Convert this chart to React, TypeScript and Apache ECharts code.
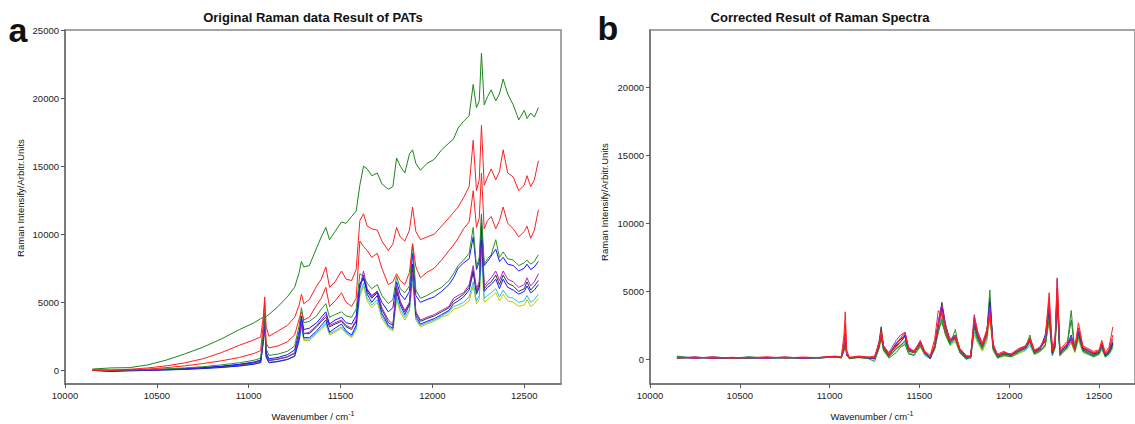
import React, { useEffect, useRef } from "react";
import * as echarts from "echarts";

const wavenumbers = [
  10150, 10250, 10350, 10450, 10550, 10650, 10750, 10850, 10950, 11030,
  11065, 11080, 11087, 11095, 11110, 11160, 11210, 11250, 11275, 11287,
  11300, 11330, 11370, 11395, 11420, 11440, 11470, 11505, 11530, 11560,
  11585, 11605, 11625, 11645, 11670, 11700, 11725, 11760, 11785, 11805,
  11825, 11850, 11875, 11892, 11910, 11935, 11970, 12010, 12050, 12090,
  12115, 12140, 12170, 12200, 12222, 12240, 12255, 12267, 12282, 12300,
  12320, 12345, 12365, 12385, 12410, 12440, 12470, 12500, 12515, 12535,
  12555, 12577,
];

// Panel a: original spectra
const rawGreen1 = [
  100, 180, 200, 400, 750, 1200, 1700, 2300, 3000, 3500,
  3800, 3900, 4000, 3950, 4100, 4700, 5400, 6100, 7200, 8000,
  7600, 7700, 9000, 9800, 10500, 9600, 10200, 10900, 10800, 11300,
  11700, 13600, 15000, 14800, 14300, 14500, 13700, 13300, 13500, 15600,
  15000, 14500, 15900, 16200, 15200, 14700, 15200, 15500, 16200, 16700,
  17000, 17800, 18300, 18700, 21000, 19300, 19800, 23300, 19500, 20100,
  20600, 19800, 20300, 21400, 20300, 19500, 18400, 19100, 18500, 18900,
  18600, 19300,
];
const rawRed1 = [
  0, 20, 80, 180, 330, 550, 850, 1300, 1850, 2250,
  2450, 4000, 5400, 3200, 2500, 2900, 3300, 3900, 4800, 5600,
  4900, 5200, 6200, 6700, 7600, 6100, 6500, 7300, 6700, 6600,
  7400, 11000, 11500, 10600, 10400, 10300, 9500, 8800, 9300, 10500,
  9800, 9500, 10300, 12000, 10200, 9600, 9800, 10000, 10600, 11200,
  11600, 12000, 12700, 13500, 16900, 13200, 14000, 18000, 13600, 14200,
  14800, 14000, 14600, 16200, 14500, 14200, 13200, 13600, 14300, 13500,
  14000, 15400,
];
const rawRed2 = [
  0, 0, 40, 100, 200, 330, 500, 700, 950, 1250,
  1450, 3500, 5000, 2000, 1650, 1800, 2100, 2600, 3800, 4300,
  3700, 3900, 4800, 5300, 6100, 4700, 5100, 5700, 5000, 4700,
  5300, 9500, 9100, 8800, 8300, 8600, 7500, 6300, 6500, 7100,
  6600, 6300, 7200, 9300, 7600, 6800, 7200, 7500, 8100, 8800,
  9200, 9700, 10400, 10900, 13200, 10500, 11200, 14500, 10400, 11000,
  11300, 10400, 11000, 12000, 10800, 10400, 9800, 10200, 10600, 9700,
  10300, 11800,
];
const rawGreen2 = [
  50, 0, 30, 60, 110, 180, 270, 400, 560, 750,
  900, 2800, 4200, 1600, 1100, 1200, 1400, 1800, 3300, 4600,
  3500, 3600, 4000, 4500, 4900, 3900, 4100, 4300, 4000, 3900,
  4500, 7100, 6900, 6400, 6000, 6300, 5500, 4900, 5200, 6900,
  6000, 5700, 6200, 9300, 5900, 5300, 5500, 5800, 6100, 6600,
  7100, 7700, 8100, 8600, 10500, 7600, 8300, 11500, 7800, 8200,
  8500, 9600, 8300, 8700, 8200, 8100, 7700, 7900, 8100, 7800,
  8000, 8500,
];
const rawBlue2 = [
  0, -50, 0, 30, 70, 130, 200, 300, 450, 620,
  760, 2500, 3900, 1300, 850, 950, 1150, 1500, 2900, 4000,
  3000, 3100, 3500, 3900, 4300, 3400, 3700, 3900, 3500, 3400,
  4000, 6400, 6700, 5900, 5500, 5800, 5000, 4300, 4600, 6500,
  5600, 5200, 5800, 8600, 5500, 5000, 5200, 5400, 5800, 6300,
  6800, 7500, 7900, 8200, 9800, 7400, 8000, 10600, 7700, 8000,
  8400, 8900, 8000, 8300, 7800, 7700, 7300, 7500, 7800, 7400,
  7600, 8000,
];
const rawMagenta = [
  0, 0, 20, 40, 80, 130, 200, 290, 420, 580,
  700, 2300, 3700, 1200, 750, 850, 1000, 1300, 2500, 3600,
  2700, 2800, 3300, 3700, 4100, 3300, 3500, 3700, 3300, 3100,
  3700, 6100, 7300, 6000, 5400, 5800, 4600, 3700, 3400, 6200,
  5100, 4400, 5000, 7200, 4300, 3700, 3900, 4100, 4400, 4700,
  5300, 5500, 5700, 6300, 7700, 6000, 6500, 11400, 6200, 6500,
  6800, 7300, 6600, 7300, 6700, 6500, 6100, 6300, 6800, 6200,
  6500, 7100,
];
const rawBlack = [
  20, 0, 10, 30, 70, 120, 190, 280, 400, 560,
  680, 2400, 3800, 1200, 720, 820, 980, 1250, 2600, 3800,
  2700, 2700, 3200, 3600, 3900, 3200, 3400, 3600, 3200, 3000,
  3600, 6300, 6800, 5800, 5300, 5700, 4500, 3500, 3300, 6000,
  5000, 4300, 4900, 7400, 4200, 3600, 3800, 4000, 4300, 4600,
  5100, 5300, 5600, 6100, 7400, 5800, 6300, 10800, 6000, 6300,
  6500, 7000, 6300, 7000, 6400, 6200, 5800, 6000, 6500, 5900,
  6200, 6600,
];
const rawBlue1 = [
  0, -80, -40, 0, 30, 70, 130, 210, 320, 460,
  570, 2200, 3600, 1000, 560, 650, 800, 1050, 2300, 3500,
  2400, 2400, 2900, 3300, 3700, 2800, 3100, 3400, 2900, 2600,
  3300, 6000, 7000, 5600, 5000, 5500, 4200, 3300, 3100, 5800,
  4800, 4100, 4800, 7800, 4000, 3400, 3600, 3800, 4100, 4400,
  4900, 5100, 5400, 5900, 7200, 5600, 6100, 9600, 5800, 6100,
  6300, 6700, 6000, 6700, 6100, 5900, 5600, 5800, 6200, 5700,
  5900, 6300,
];
const rawCyan = [
  30, 0, 0, 20, 50, 100, 160, 240, 350, 480,
  600, 2100, 3400, 1000, 600, 680, 820, 1050, 2200, 3300,
  2300, 2300, 2800, 3100, 3500, 2700, 2900, 3200, 2800, 2500,
  3100, 5600, 6400, 5300, 4800, 5200, 4000, 3200, 3000, 5400,
  4500, 3900, 4500, 6800, 3800, 3300, 3500, 3700, 4000, 4300,
  4700, 4800, 5000, 5400, 6500, 5100, 5500, 8800, 5300, 5500,
  5700, 6000, 5400, 5900, 5400, 5300, 5000, 5100, 5500, 5000,
  5200, 5600,
];
const rawYellow = [
  0, -20, 0, 10, 40, 90, 150, 230, 330, 460,
  570, 2000, 3300, 950, 570, 650, 780, 1000, 2100, 3200,
  2200, 2200, 2700, 3000, 3400, 2600, 2800, 3100, 2700, 2400,
  3000, 5400, 6200, 5100, 4600, 5000, 3800, 3100, 2900, 5200,
  4300, 3700, 4300, 6600, 3700, 3200, 3400, 3600, 3900, 4100,
  4500, 4600, 4800, 5100, 6200, 4900, 5200, 8400, 5000, 5200,
  5400, 5700, 5100, 5600, 5100, 5000, 4700, 4800, 5200, 4700,
  4900, 5300,
];

// Panel b: corrected spectra
const corRed1 = [
  150, 120, 180, 100, 150, 130, 170, 120, 160, 250,
  200, 1800, 3500, 700, 150, 250, 200, 150, 1200, 2100,
  1000, 400, 900, 1300, 1900, 800, 600, 1400, 600, 300,
  1500, 3600, 3300, 2400, 1500, 1800, 800, 300, 100, 3100,
  2000, 1200, 2200, 3400, 1200, 300, 500, 400, 800, 1000,
  1600, 700, 900, 1500, 4900, 800, 1500, 5900, 700, 1000,
  1300, 1500, 900, 2700, 1000, 800, 600, 700, 1400, 500,
  900, 2400,
];
const corRed2 = [
  100, 180, 90, 160, 120, 200, 110, 180, 130, 200,
  150, 1200, 2600, 500, 100, 200, 150, 250, 1000, 1900,
  900, 300, 1100, 1600, 2000, 700, 500, 1200, 500, 200,
  1100, 2600, 3500, 2100, 1300, 1600, 700, 200, 300, 2800,
  1800, 1000, 1900, 3100, 1000, 400, 600, 300, 700, 900,
  1400, 600, 800, 1300, 4200, 600, 1200, 5200, 500, 800,
  1100, 1300, 700, 2300, 900, 600, 500, 600, 1200, 400,
  700, 1800,
];
const corGreen1 = [
  200, 100, 150, 80, 200, 100, 150, 90, 120, 180,
  150, 700, 1300, 300, 100, 150, 100, 50, 900, 1700,
  800, 200, 800, 1000, 1400, 600, 500, 1100, 400, 200,
  900, 2300, 2700, 1900, 1200, 1500, 600, 100, 200, 2400,
  1500, 900, 1700, 4000, 900, 200, 400, 300, 600, 800,
  1300, 500, 700, 1100, 3700, 400, 1000, 4600, 400, 700,
  900, 2900, 700, 1900, 700, 500, 300, 500, 1000, 300,
  500, 1100,
];
const corGreen2 = [
  250, 100, 180, 120, 90, 160, 100, 140, 120, 200,
  120, 600, 1500, 300, 50, 200, 100, -150, 800, 1600,
  700, 100, 500, 900, 1100, 400, 300, 1000, 400, 100,
  800, 2000, 3000, 1800, 1100, 2200, 500, 0, 200, 2300,
  1400, 800, 1900, 5100, 800, 100, 300, 200, 500, 900,
  1800, 400, 600, 1000, 3000, 300, 900, 4300, 300, 600,
  800, 3600, 600, 1700, 600, 400, 200, 400, 900, 200,
  400, 1000,
];
const corBlue2 = [
  120, 180, 90, 150, 110, 130, 160, 100, 150, 220,
  140, 1000, 1800, 400, 120, 180, 120, 100, 1000, 1900,
  900, 300, 1000, 1300, 1700, 700, 500, 1200, 500, 150,
  1000, 2500, 3800, 2300, 1300, 1700, 700, 200, 200, 2700,
  1700, 1000, 2000, 4200, 1000, 300, 500, 300, 700, 900,
  1500, 600, 800, 1400, 3800, 500, 1200, 4800, 500, 800,
  1000, 1800, 800, 2000, 800, 700, 400, 600, 1100, 300,
  600, 1200,
];
const corMagenta = [
  150, 100, 170, 120, 140, 100, 180, 110, 140, 210,
  160, 900, 1700, 400, 150, 200, 150, 100, 1100, 2000,
  1000, 500, 1400, 1800, 2000, 900, 600, 1300, 500, 200,
  1000, 2800, 4000, 2500, 1400, 1800, 800, 300, 200, 3300,
  2000, 1100, 2000, 3900, 1000, 300, 500, 400, 700, 1000,
  1500, 600, 900, 1600, 4300, 600, 1400, 6000, 500, 900,
  1100, 1700, 800, 2300, 900, 700, 500, 600, 1200, 400,
  700, 1500,
];
const corBlack = [
  140, 120, 160, 110, 150, 120, 140, 130, 150, 230,
  150, 900, 1800, 400, 130, 200, 150, 100, 1300, 2400,
  1000, 400, 1100, 1500, 1800, 800, 600, 1300, 500, 150,
  1000, 2700, 4200, 2600, 1400, 1700, 700, 200, 150, 2900,
  1800, 1000, 1900, 4300, 900, 250, 400, 350, 600, 900,
  1400, 500, 800, 1400, 3900, 500, 1200, 5200, 400, 800,
  1000, 1600, 700, 2100, 800, 600, 400, 500, 1100, 300,
  600, 1300,
];
const corBlue1 = [
  100, 150, 120, 90, 160, 110, 130, 140, 120, 200,
  130, 900, 1900, 350, 100, 150, 120, 80, 1100, 2100,
  900, 300, 1200, 1500, 1700, 700, 500, 1300, 500, 50,
  900, 2600, 3900, 2400, 1300, 1600, 600, 100, 200, 2600,
  1700, 900, 1800, 4500, 900, 200, 400, 300, 600, 800,
  1300, 500, 700, 1800, 3500, 500, 1100, 5000, 400, 700,
  900, 1500, 700, 1900, 700, 500, 300, 500, 1000, 250,
  500, 1100,
];
const corCyan = [
  180, 110, 140, 100, 120, 150, 100, 130, 110, 180,
  120, 800, 1500, 300, 80, 150, 100, 50, 900, 1800,
  700, 200, 800, 1100, 1300, 500, 350, 1000, 300, 50,
  800, 2200, 3300, 2000, 1100, 1400, 500, 50, 100, 2000,
  1300, 700, 1500, 3400, 700, 150, 300, 200, 500, 700,
  1100, 400, 600, 1000, 3000, 350, 900, 4200, 300, 600,
  800, 1300, 600, 1600, 600, 400, 250, 400, 800, 200,
  400, 900,
];
const corYellow = [
  130, 160, 100, 140, 110, 120, 150, 100, 130, 170,
  110, 700, 1300, 300, 60, 130, 90, 30, 800, 1600,
  600, 150, 700, 1000, 1200, 450, 300, 900, 300, 80,
  700, 2000, 3000, 1800, 1000, 1300, 450, 80, 100, 1800,
  1200, 600, 1300, 3100, 600, 100, 250, 200, 400, 650,
  1000, 350, 550, 900, 2800, 300, 800, 3800, 250, 500,
  700, 1200, 500, 1400, 500, 350, 200, 350, 700, 150,
  350, 800,
];

const xTicks = [10000, 10500, 11000, 11500, 12000, 12500];
const yTicksA = [0, 5000, 10000, 15000, 20000, 25000];
const yTicksB = [0, 5000, 10000, 15000, 20000];

const COLORS = {
  green1: "#1c861c",
  green2: "#2a8f2a",
  red: "#ff1f1f",
  blue: "#1414ff",
  magenta: "#b024c4",
  black: "#333333",
  cyan: "#22c6d6",
  yellow: "#c8c400",
};

const FONT = "'Liberation Sans Narrow','Liberation Sans',Arial,sans-serif";

const panelA = [
  { name: "yellow", data: rawYellow, color: COLORS.yellow },
  { name: "cyan", data: rawCyan, color: COLORS.cyan },
  { name: "blue1", data: rawBlue1, color: COLORS.blue },
  { name: "black", data: rawBlack, color: COLORS.black },
  { name: "magenta", data: rawMagenta, color: COLORS.magenta },
  { name: "blue2", data: rawBlue2, color: COLORS.blue },
  { name: "green2", data: rawGreen2, color: COLORS.green2 },
  { name: "green1", data: rawGreen1, color: COLORS.green1 },
  { name: "red2", data: rawRed2, color: COLORS.red },
  { name: "red1", data: rawRed1, color: COLORS.red },
];

const panelB = [
  { name: "yellow", data: corYellow, color: COLORS.yellow },
  { name: "cyan", data: corCyan, color: COLORS.cyan },
  { name: "blue1", data: corBlue1, color: COLORS.blue },
  { name: "black", data: corBlack, color: COLORS.black },
  { name: "green1", data: corGreen1, color: COLORS.green1 },
  { name: "green2", data: corGreen2, color: COLORS.green2 },
  { name: "blue2", data: corBlue2, color: COLORS.blue },
  { name: "magenta", data: corMagenta, color: COLORS.magenta },
  { name: "red2", data: corRed2, color: COLORS.red },
  { name: "red1", data: corRed1, color: COLORS.red },
];

const plain = (v: number) => String(v);

function makeXAxis(gridIndex: number) {
  return {
    type: "value",
    gridIndex,
    min: 10000,
    max: 12700,
    axisLine: { show: true, onZero: false, lineStyle: { color: "#6e6e6e", width: 1.5 } },
    axisTick: { show: true, inside: false, length: 4, customValues: xTicks, lineStyle: { color: "#555" } },
    axisLabel: { customValues: xTicks, formatter: plain, fontSize: 9.5, color: "#222", fontFamily: FONT, margin: 6 },
    splitLine: { show: false },
  };
}

function makeYAxis(gridIndex: number, min: number, max: number, ticks: number[]) {
  return {
    type: "value",
    gridIndex,
    min,
    max,
    axisLine: { show: true, onZero: false, lineStyle: { color: "#6e6e6e", width: 1.5 } },
    axisTick: { show: true, inside: false, length: 4, customValues: ticks, lineStyle: { color: "#555" } },
    axisLabel: { customValues: ticks, formatter: plain, fontSize: 9.5, color: "#222", fontFamily: FONT, margin: 6 },
    splitLine: { show: false },
  };
}

function makeSeries(list: { name: string; data: number[]; color: string }[], idx: number) {
  return list.map((s) => ({
    name: s.name,
    type: "line",
    xAxisIndex: idx,
    yAxisIndex: idx,
    data: wavenumbers.map((w, i) => [w, s.data[i]]),
    showSymbol: false,
    symbol: "none",
    lineStyle: { color: s.color, width: 1 },
    itemStyle: { color: s.color },
    silent: true,
  }));
}

function textEl(text: string, x: number, y: number, font: string, extra: any = {}) {
  return {
    type: "text",
    x,
    y,
    ...extra,
    style: {
      text,
      font,
      fill: "#111",
      textAlign: "center",
      textVerticalAlign: "middle",
      ...(extra.style || {}),
    },
  };
}

export default function App() {
  const ref = useRef<HTMLDivElement>(null);
  useEffect(() => {
    if (!ref.current) return;
    const chart = echarts.init(ref.current, null, { renderer: "svg" });
    const supRich = {
      s: { fontSize: 7, fontFamily: FONT, fill: "#111", padding: [0, 0, 6, 0] },
    };
    chart.setOption({
      animation: false,
      backgroundColor: "#ffffff",
      grid: [
        { left: 65, top: 30, width: 496, height: 354, show: true, borderColor: "#888", borderWidth: 1.5, containLabel: false },
        { left: 650, top: 30, width: 499, height: 354, show: true, borderColor: "#888", borderWidth: 1.5, containLabel: false },
      ],
      xAxis: [makeXAxis(0), makeXAxis(1)],
      yAxis: [makeYAxis(0, -1000, 25000, yTicksA), makeYAxis(1, -1800, 24200, yTicksB)],
      series: [...makeSeries(panelA, 0), ...makeSeries(panelB, 1)],
      graphic: [
        textEl("a", 18, 30, `bold 34px 'Liberation Sans',Arial,sans-serif`),
        textEl("b", 608, 28, `bold 34px 'Liberation Sans',Arial,sans-serif`),
        textEl("Original Raman data Result of PATs", 313, 17, `bold 13px ${FONT}`),
        textEl("Corrected Result of Raman Spectra", 820, 17, `bold 13px ${FONT}`),
        textEl("Raman Intensify/Arbitr.Units", 20, 198, `9.5px ${FONT}`, { rotation: Math.PI / 2 }),
        textEl("Raman Intensify/Arbitr.Units", 604, 202, `9.5px ${FONT}`, { rotation: Math.PI / 2 }),
        {
          type: "text",
          x: 313,
          y: 416,
          style: {
            text: "Wavenumber / cm{s|-1}",
            font: `9.5px ${FONT}`,
            fill: "#111",
            textAlign: "center",
            textVerticalAlign: "middle",
            rich: supRich,
          },
        },
        {
          type: "text",
          x: 872,
          y: 416,
          style: {
            text: "Wavenumber / cm{s|-1}",
            font: `9.5px ${FONT}`,
            fill: "#111",
            textAlign: "center",
            textVerticalAlign: "middle",
            rich: supRich,
          },
        },
      ],
    });
    return () => chart.dispose();
  }, []);
  return (
    <div
      ref={ref}
      style={{ position: "fixed", left: 0, top: 0, width: 1135, height: 424, background: "#fff" }}
    />
  );
}
